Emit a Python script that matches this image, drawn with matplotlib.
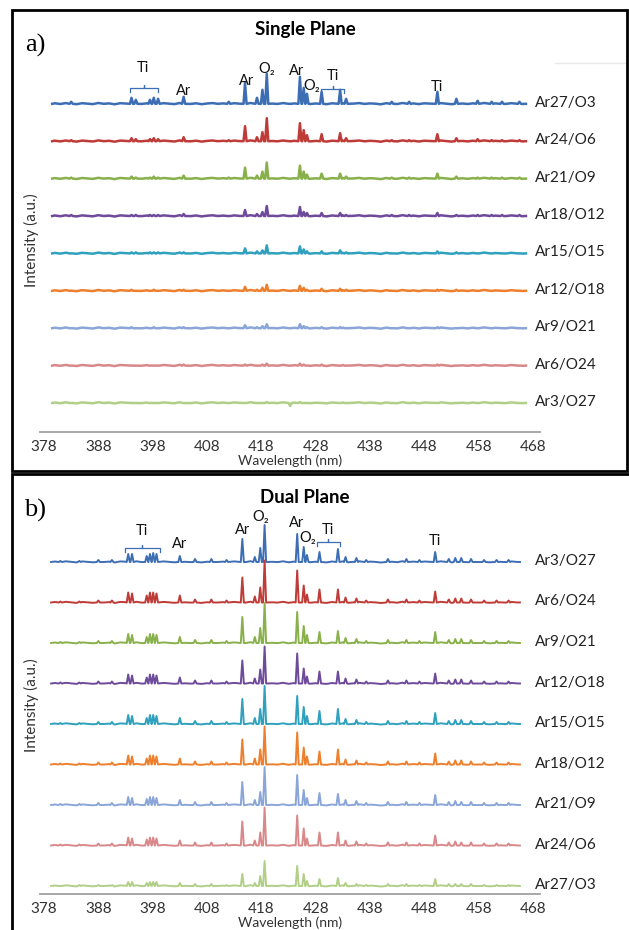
import numpy as np
import matplotlib
matplotlib.use("Agg")
import matplotlib.pyplot as plt
from matplotlib.patches import Rectangle
from matplotlib.lines import Line2D

plt.rcParams['font.family'] = ['Lato', 'DejaVu Sans']

# ---- data (heights in pixels above each baseline) ----
ticks = [378, 388, 398, 408, 418, 428, 438, 448, 458, 468]

labels_a = ['Ar27/O3', 'Ar24/O6', 'Ar21/O9', 'Ar18/O12', 'Ar15/O15',
            'Ar12/O18', 'Ar9/O21', 'Ar6/O24', 'Ar3/O27']
labels_b = ['Ar3/O27', 'Ar6/O24', 'Ar9/O21', 'Ar12/O18', 'Ar15/O15',
            'Ar18/O12', 'Ar21/O9', 'Ar24/O6', 'Ar27/O3']
colors = ['#3D6EB4', '#BE3B37', '#88B04B', '#6E4A9A', '#2FA0BE',
          '#EE7F2D', '#8AA6D8', '#D9888A', '#B2CF88']

lines_a = [383.0, 394.1, 394.9, 397.5, 398.2, 399.0, 403.7, 412.0, 415.0,
           417.2, 418.2, 419.0, 423.3, 425.1, 425.8, 426.4, 429.1, 432.5,
           433.6, 442.0, 445.2, 450.4, 453.9, 457.8, 460.4, 462.3, 465.5]
heights_a = [
    [2, 6, 4, 4, 6, 5, 7, 2, 21, 6, 14, 30, 0, 27, 16, 10, 12, 14, 5, 2, 2, 12, 5, 3, 2, 2, 2],
    [1, 3, 2, 2, 3, 2, 4, 1, 15, 4, 9, 23, 0, 18, 11, 6, 7, 8, 3, 1, 1, 7, 3, 2, 1, 1, 1],
    [1, 2, 1, 1, 2, 1, 3, 1, 11, 3, 7, 16, 0, 13, 7, 4, 5, 5, 2, 1, 1, 5, 2, 1, 1, 1, 1],
    [1, 1, 1, 1, 1, 1, 2, 0, 6, 2, 4, 10, 0, 9, 4, 3, 3, 3, 1, 1, 1, 3, 1, 1, 1, 1, 1],
    [0, 1, 1, 1, 1, 1, 1, 0, 5, 2, 3, 8, 0, 7, 4, 2, 2, 3, 1, 0, 0, 2, 1, 0, 0, 0, 0],
    [0, 1, 0, 0, 1, 0, 1, 0, 4, 1, 3, 6, 0, 5, 3, 1, 2, 2, 1, 0, 0, 1, 1, 0, 0, 0, 0],
    [0, 1, 0, 0, 1, 0, 1, 0, 3, 1, 2, 4, 0, 4, 2, 1, 1, 1, 0, 0, 0, 1, 0, 0, 0, 0, 0],
    [0, 0, 0, 0, 0, 0, 1, 0, 1, 0, 1, 2, 0, 2, 1, 0, 1, 0, 0, 0, 0, 1, 0, 0, 0, 0, 0],
    [0, 0, 0, 0, 0, 0, 0, 0, 0, 0, 0, 1, -3, 1, 0, 0, 0, 0, 0, 0, 0, 0, 0, 0, 0, 0, 0],
]

lines_b = [381.0, 384.5, 388.0, 390.5, 393.5, 394.2, 396.9, 397.5, 398.1, 398.7,
           403.0, 405.8, 408.8, 411.6, 414.5, 416.8, 417.8, 418.6, 424.6, 425.8,
           426.4, 428.7, 432.1, 433.5, 435.5, 437.3, 441.3, 444.7, 447.1, 450.0,
           452.5, 453.7, 454.8, 456.6, 459.0, 461.3, 463.5]
heights_b = [
    [1, 1, 2, 2, 8, 8, 6, 8, 9, 8, 6, 3, 3, 2, 23, 5, 14, 37, 28, 15, 7, 10, 13, 5, 4, 2, 3, 3, 2, 10, 3, 4, 4, 3, 2, 2, 2],
    [1, 1, 2, 2, 10, 9, 7, 10, 10, 9, 7, 3, 3, 2, 25, 6, 15, 42, 32, 17, 8, 13, 13, 5, 4, 2, 3, 3, 2, 11, 3, 4, 4, 3, 2, 2, 2],
    [1, 1, 2, 2, 9, 8, 6, 9, 9, 8, 6, 3, 3, 2, 26, 6, 15, 40, 31, 17, 8, 11, 12, 5, 4, 2, 3, 3, 2, 11, 3, 4, 4, 3, 2, 2, 2],
    [1, 1, 2, 2, 9, 8, 6, 9, 9, 8, 6, 3, 3, 2, 23, 5, 14, 37, 30, 15, 7, 12, 12, 5, 4, 2, 3, 3, 2, 10, 3, 4, 4, 3, 2, 2, 2],
    [1, 1, 2, 2, 9, 8, 6, 9, 9, 8, 6, 3, 3, 2, 25, 6, 15, 38, 28, 17, 8, 13, 15, 5, 4, 2, 3, 3, 2, 11, 3, 4, 4, 3, 2, 2, 2],
    [1, 1, 2, 2, 9, 8, 6, 9, 9, 8, 6, 3, 3, 2, 25, 6, 15, 38, 32, 17, 8, 13, 15, 5, 4, 2, 3, 3, 2, 11, 3, 4, 4, 3, 2, 2, 2],
    [1, 1, 2, 2, 8, 7, 6, 8, 8, 7, 5, 3, 3, 2, 23, 5, 13, 38, 30, 15, 7, 12, 11, 5, 4, 2, 3, 3, 2, 10, 3, 4, 3, 3, 2, 2, 2],
    [1, 1, 2, 2, 8, 7, 6, 8, 8, 7, 5, 3, 3, 2, 24, 5, 13, 38, 30, 17, 7, 13, 13, 5, 4, 2, 3, 3, 2, 10, 3, 4, 3, 3, 2, 2, 2],
    [0, 1, 1, 1, 4, 4, 3, 4, 4, 4, 3, 2, 2, 1, 12, 3, 10, 25, 20, 12, 5, 7, 8, 3, 2, 1, 2, 2, 1, 7, 2, 2, 2, 2, 1, 1, 1],
]

# small baseline wiggle, one value per nm from 380 to 466
ripple_nm = list(range(380, 467))
ripple = [0.5, -0.2, 0.7, 0.1, -0.4, 0.6, 0.2, -0.3, 0.8, 0.0,
          0.4, -0.5, 0.6, 0.3, -0.2, 0.7, -0.1, 0.5, 0.2, -0.4,
          0.6, 0.1, -0.3, 0.8, 0.2, -0.1, 0.5, -0.4, 0.3, 0.7,
          0.0, 0.4, -0.3, 0.6, 0.1, -0.2, 0.8, 0.3, -0.4, 0.5,
          0.2, -0.1, 0.7, -0.3, 0.4, 0.1, 0.6, -0.2, 0.3, 0.8,
          -0.4, 0.5, 0.0, 0.6, -0.3, 0.2, 0.7, -0.1, 0.4, 0.1,
          -0.5, 0.6, 0.3, -0.2, 0.8, 0.0, 0.4, -0.3, 0.5, 0.2,
          -0.1, 0.7, 0.1, -0.4, 0.6, 0.3, -0.2, 0.5, 0.0, 0.8,
          -0.3, 0.4, 0.2, -0.1, 0.6, 0.1, -0.2]

# peak annotations: (text, wavelength, pixels above top baseline)
notes_a = [('Ti', 396.2, 36), ('Ar', 403.7, 13), ('Ar', 415.3, 23), ('O₂', 419.0, 35),
           ('Ar', 424.4, 33), ('O₂', 427.3, 18), ('Ti', 431.1, 28), ('Ti', 450.4, 17)]
brackets_a = [(393.9, 399.0, 16), (429.0, 433.3, 15)]
notes_b = [('Ti', 396.0, 31), ('Ar', 403.0, 18), ('Ar', 414.6, 32), ('O₂', 417.9, 45),
           ('Ar', 424.4, 39), ('O₂', 426.5, 24), ('Ti', 430.2, 32), ('Ti', 449.9, 21)]
brackets_b = [(392.9, 399.3, 14), (428.2, 432.4, 20)]

W, H = 629, 930
fig = plt.figure(figsize=(W / 100, H / 100), dpi=100)


def spectrum(lines, heights, start, end, w):
    pts = [(start, 0.0), (end, 0.0)]
    for lam, h in zip(lines, heights):
        pts += [(lam - w, 0.0), (lam, h), (lam + w, 0.0)]
    arr = np.array(lines)
    for r, v in zip(ripple_nm, ripple):
        if start < r < end and np.min(np.abs(arr - r)) > w + 0.15:
            pts.append((r, v))
    pts.sort()
    x, y = zip(*pts)
    return np.array(x), np.array(y)


def panel(top_px, axis_px, base0, spacing, lines, heights, labels, notes,
          brackets, start, end, lw, tag, tag_y, title, title_y, ylab_y):
    ax = fig.add_axes([40 / W, 1 - axis_px / H, 500 / W, (axis_px - top_px) / H])
    ax.set_xlim(377.26, 469.29)
    ax.set_ylim(0, axis_px - top_px)
    n = len(labels)
    for i in range(n):
        off = base0 + spacing * (n - 1 - i)
        x, y = spectrum(lines, heights[i], start, end, 0.28)
        ax.plot(x, y + off, color=colors[i], lw=lw, solid_joinstyle='round', clip_on=False)
        ax.text(468.4, off + 1, labels[i], va='center', ha='left', fontsize=11, color='#222222')
    top = base0 + spacing * (n - 1)
    for txt, lam, dy in notes:
        ax.text(lam, top + dy, txt, ha='center', va='center', fontsize=10.5, color='#111111')
    for x0, x1, dy in brackets:
        yb = top + dy
        xm = (x0 + x1) / 2
        ax.plot([x0, x0, xm, xm, xm, x1, x1], [yb - 4, yb, yb, yb + 3, yb, yb, yb - 4],
                color=colors[0], lw=0.9, clip_on=False)
    for s in ['top', 'left', 'right']:
        ax.spines[s].set_visible(False)
    ax.spines['bottom'].set_color('#A0A0A0')
    ax.spines['bottom'].set_linewidth(1.3)
    ax.set_yticks([])
    ax.set_xticks(ticks)
    ax.tick_params(axis='x', length=0, pad=6, labelsize=11, labelcolor='#333333')
    ax.set_xlabel('Wavelength (nm)', fontsize=10, color='#333333', labelpad=0)
    ax.patch.set_visible(False)
    fig.text(35 / W, 1 - tag_y / H, tag, family='Liberation Serif', fontsize=19,
             ha='center', va='center')
    fig.text(305 / W, 1 - title_y / H, title, fontsize=13.5, fontweight='bold',
             ha='center', va='center')
    fig.text(31 / W, 1 - ylab_y / H, 'Intensity (a.u.)', rotation=90, fontsize=11,
             ha='center', va='center', color='#333333')
    return ax


panel(55, 432, 29, 37.4, lines_a, heights_a, labels_a, notes_a, brackets_a,
      379.5, 466.7, 1.8, 'a)', 45, 'Single Plane', 30, 240)
panel(515, 894, 8, 40.5, lines_b, heights_b, labels_b, notes_b, brackets_b,
      379.3, 465.6, 1.4, 'b)', 510, 'Dual Plane', 497, 705)

# panel frames
fig.patches.append(Rectangle((12 / W, 1 - 471 / H), 615 / W, 461 / H, transform=fig.transFigure,
                             fill=False, ec='black', lw=2, zorder=5))
fig.patches.append(Rectangle((12 / W, 1 - 945 / H), 640 / W, 471 / H, transform=fig.transFigure,
                             fill=False, ec='black', lw=2, zorder=5))
fig.lines.append(Line2D([555 / W, 1], [1 - 63 / H, 1 - 63 / H], transform=fig.transFigure,
                        color='#E8E8E8', lw=1))

fig.savefig('out.png', dpi=100)
